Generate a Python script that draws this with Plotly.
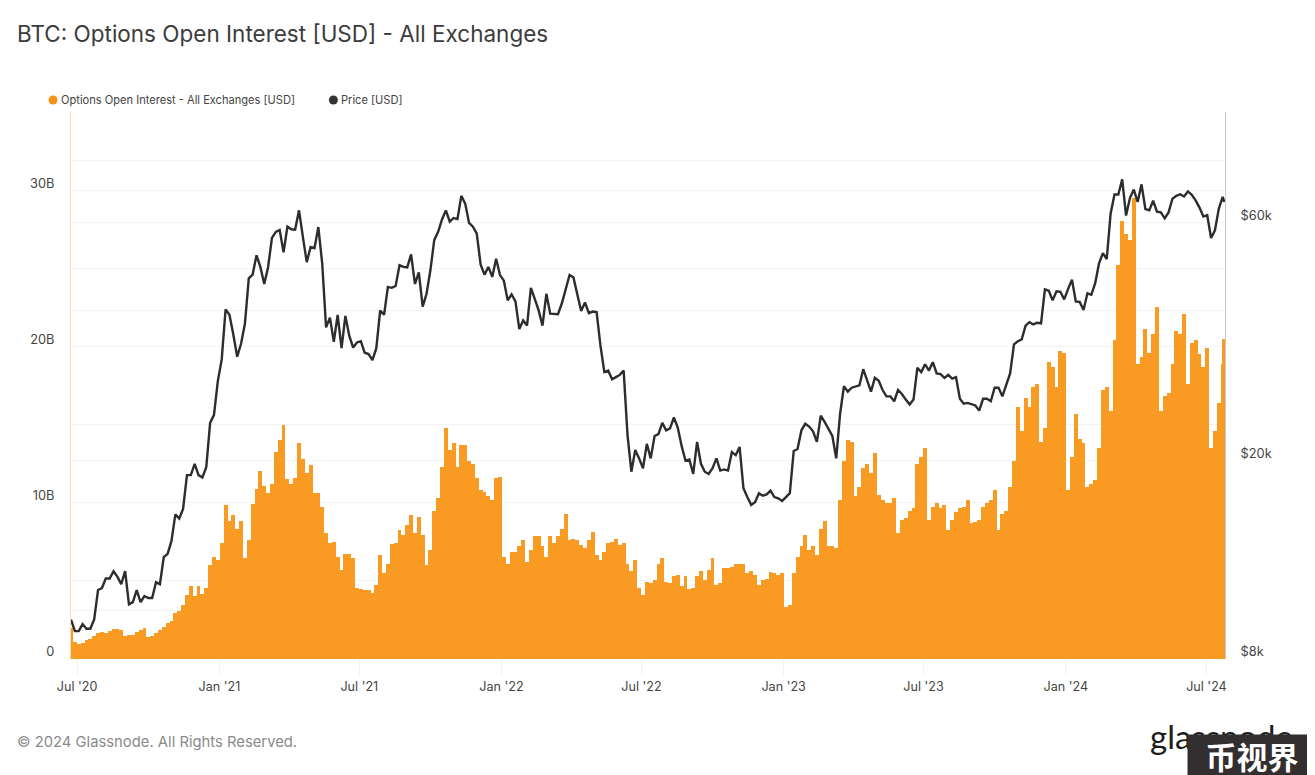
#!/usr/bin/env python3
"""BTC options open interest against price, Glassnode style."""

import numpy as np
import pandas as pd
import plotly.graph_objects as go

# one reading every 5 days from the start date, plus the last day
START_DATE = "2020-06-23"
LAST_DATE = "2024-07-24"

# open interest, billions of USD
OPEN_INTEREST = [
    2.0, 1.1, 0.95, 1.05, 1.2, 1.3, 1.5, 1.65, 1.75, 1.65,
    1.8, 1.9, 1.9, 1.85, 1.5, 1.55, 1.55, 1.7, 1.85, 2.0,
    1.4, 1.45, 1.65, 1.85, 2.05, 2.3, 2.45, 2.95, 3.1, 3.45,
    4.1, 4.65, 4.0, 4.65, 4.15, 4.55, 6.0, 6.55, 6.35, 7.4,
    9.85, 8.8, 9.2, 8.35, 8.8, 6.45, 7.6, 9.95, 10.9, 12.0,
    11.1, 10.6, 11.2, 13.25, 14.0, 15.0, 11.5, 11.2, 11.55, 13.8,
    12.8, 11.9, 12.4, 10.6, 10.6, 9.75, 8.05, 7.4, 7.5, 6.55,
    5.7, 6.75, 6.75, 6.45, 4.55, 4.5, 4.4, 4.4, 4.2, 4.75,
    6.65, 5.5, 6.1, 7.35, 7.4, 8.25, 7.95, 8.55, 9.2, 8.05,
    9.1, 7.95, 6.0, 7.0, 9.5, 10.3, 12.3, 14.75, 13.35, 13.8,
    12.3, 13.7, 13.7, 12.7, 12.5, 11.55, 10.8, 10.7, 10.4, 10.2,
    11.55, 11.65, 6.55, 6.1, 6.85, 6.85, 7.2, 7.6, 6.2, 7.0,
    7.85, 7.85, 7.2, 6.55, 7.85, 7.4, 7.85, 8.35, 9.3, 7.6,
    7.7, 7.6, 7.3, 7.1, 7.6, 8.15, 6.65, 6.35, 6.85, 7.4,
    7.5, 7.7, 7.3, 7.4, 6.1, 5.6, 6.35, 4.55, 4.1, 4.95,
    4.85, 5.05, 6.1, 6.45, 4.95, 4.85, 5.3, 5.4, 4.65, 5.3,
    4.45, 4.55, 5.3, 5.6, 5.05, 5.7, 6.45, 4.75, 4.85, 5.8,
    5.8, 5.9, 6.1, 6.1, 6.1, 5.5, 5.6, 5.4, 4.75, 5.05,
    5.15, 5.55, 5.5, 5.4, 5.5, 3.3, 3.45, 5.5, 6.55, 7.2,
    7.95, 7.0, 7.2, 6.65, 8.35, 8.8, 7.2, 7.2, 7.1, 10.2,
    12.7, 14.0, 13.9, 10.4, 11.0, 12.2, 12.5, 11.9, 13.2, 10.5,
    10.2, 10.0, 10.0, 10.3, 8.05, 8.9, 9.0, 9.5, 9.65, 12.5,
    12.9, 13.5, 8.9, 9.7, 10.0, 9.65, 9.85, 8.25, 8.9, 9.4,
    9.65, 9.7, 10.15, 8.7, 8.75, 8.9, 9.7, 10.0, 10.15, 10.8,
    8.25, 9.3, 9.5, 11.0, 12.7, 16.1, 14.6, 16.7, 16.1, 17.4,
    17.6, 13.9, 14.8, 19.0, 18.7, 17.4, 19.7, 19.6, 10.8, 12.9,
    15.7, 14.1, 13.8, 11.0, 11.2, 11.45, 13.5, 17.2, 17.4, 15.9,
    20.4, 25.2, 28.0, 27.2, 26.8, 29.5, 18.9, 19.3, 21.1, 19.6,
    20.8, 22.5, 15.9, 16.8, 17.0, 18.9, 21.0, 20.8, 22.1, 17.6,
    20.2, 20.4, 19.5, 18.7, 19.9, 13.5, 14.6, 16.4, 18.9, 20.5,
]

# price, thousands of USD
PRICE = [
    9.6, 9.1, 9.1, 9.4, 9.2, 9.2, 9.6, 11.0, 11.1, 11.6,
    11.6, 12.0, 11.7, 11.3, 12.0, 10.3, 10.4, 11.0, 10.4, 10.7,
    10.6, 10.6, 11.4, 11.3, 12.8, 13.0, 13.8, 15.6, 15.3, 16.0,
    18.7, 18.7, 19.7, 18.7, 18.5, 19.4, 23.8, 24.7, 28.9, 31.9,
    40.2, 39.2, 35.8, 32.3, 34.3, 37.6, 46.4, 47.2, 51.6, 48.9,
    45.2, 48.9, 55.9, 57.5, 58.0, 52.3, 58.9, 58.2, 58.1, 63.5,
    56.2, 50.0, 53.6, 53.3, 58.8, 49.7, 37.0, 38.7, 34.6, 39.2,
    33.6, 39.0, 35.6, 33.7, 34.5, 34.7, 32.9, 32.7, 31.8, 33.6,
    40.0, 39.2, 44.6, 44.4, 44.8, 49.3, 48.9, 48.8, 51.8, 45.2,
    47.7, 40.7, 43.2, 48.2, 55.4, 57.5, 60.9, 63.5, 60.3, 61.3,
    61.0, 67.9, 65.5, 59.9, 58.9, 57.0, 49.4, 47.2, 48.9, 46.7,
    50.8, 47.1, 45.9, 41.9, 43.1, 41.7, 36.7, 38.2, 37.3, 44.4,
    42.2, 40.0, 37.3, 43.2, 39.4, 39.4, 39.3, 41.3, 44.3, 47.1,
    46.6, 42.8, 39.9, 41.5, 39.5, 39.8, 39.7, 34.0, 30.1, 30.3,
    29.1, 29.4, 29.7, 30.3, 22.5, 19.0, 21.0, 20.2, 19.3, 21.6,
    20.2, 22.4, 22.6, 23.8, 23.0, 23.2, 24.4, 23.3, 21.4, 20.0,
    20.1, 18.8, 21.8, 19.7, 19.0, 18.8, 19.3, 20.2, 19.1, 19.2,
    19.1, 20.8, 20.5, 21.3, 17.6, 16.9, 16.3, 16.5, 17.2, 17.0,
    17.1, 17.4, 16.9, 16.8, 16.6, 16.9, 17.2, 20.9, 21.1, 23.0,
    23.7, 23.4, 22.9, 21.8, 24.6, 23.9, 23.1, 22.4, 20.2, 24.8,
    28.2, 27.5, 28.0, 28.2, 28.3, 30.5, 28.8, 27.5, 29.3, 28.9,
    27.7, 26.9, 26.9, 26.3, 27.7, 27.2, 26.5, 25.9, 26.5, 30.7,
    30.1, 31.2, 30.3, 31.5, 29.9, 29.8, 29.3, 29.7, 29.2, 29.4,
    26.6, 26.0, 26.1, 25.9, 25.8, 25.2, 26.6, 26.6, 26.3, 28.0,
    28.0, 26.9, 28.5, 29.9, 34.2, 34.7, 35.0, 37.3, 37.9, 37.5,
    37.8, 37.7, 44.1, 43.8, 41.9, 43.7, 43.6, 42.1, 44.2, 46.1,
    41.7, 41.6, 40.1, 43.3, 43.0, 45.3, 49.7, 52.1, 50.7, 62.5,
    68.3, 68.3, 73.3, 62.0, 67.2, 69.9, 66.0, 71.6, 63.9, 63.5,
    66.4, 63.1, 62.9, 61.2, 62.9, 67.0, 67.9, 68.4, 67.7, 69.3,
    68.2, 66.5, 64.3, 61.7, 62.1, 55.9, 57.9, 64.0, 67.6, 66.0,
]

OI_TICKS = [0, 5, 10, 15, 20, 25, 30, 35]
OI_LABELS = ["0", "", "10B", "", "20B", "", "30B", ""]
PRICE_TICKS = [8000, 10000, 20000, 40000, 60000, 80000]
PRICE_LABELS = ["$8k", "", "$20k", "", "$60k", ""]
DATE_TICKS = ["2020-07-01", "2021-01-01", "2021-07-01", "2022-01-01",
              "2022-07-01", "2023-01-01", "2023-07-01", "2024-01-01", "2024-07-01"]
DATE_LABELS = ["Jul '20", "Jan '21", "Jul '21", "Jan '22",
               "Jul '22", "Jan '23", "Jul '23", "Jan '24", "Jul '24"]

# the page keeps the browser's 8px body margin, so the figure is 8px smaller
PAGE_W, PAGE_H, BODY_MARGIN = 1315, 775, 8
LEFT, RIGHT, TOP, BOTTOM = 70.5, 1225, 112, 659

ORANGE = "#f99b22"
DARK = "#2d2d2d"
TEXT = "#444444"
GRID = "#f3f3f3"
FONT = "Inter"


def paper_x(px):
    return (px - LEFT) / (RIGHT - LEFT)


def paper_y(py):
    return (BOTTOM - py) / (BOTTOM - TOP)


def label(text, x, y, size, color=TEXT, family=FONT, **kwargs):
    return dict(
        text=text, x=paper_x(x), y=paper_y(y), xref="paper", yref="paper",
        xanchor="left", yanchor="middle", showarrow=False,
        font=dict(size=size, color=color, family=family), **kwargs,
    )


def dot(x, y, color):
    return dict(
        type="circle", xref="paper", yref="paper", fillcolor=color, line_width=0,
        x0=paper_x(x - 4.5), x1=paper_x(x + 4.5),
        y0=paper_y(y + 4.5), y1=paper_y(y - 4.5),
    )


def main():
    dates = list(pd.date_range(START_DATE, periods=len(PRICE) - 1, freq="5D"))
    dates.append(pd.Timestamp(LAST_DATE))
    price_usd = [p * 1000 for p in PRICE]

    fig = go.Figure()
    fig.add_trace(go.Bar(
        x=dates, y=OPEN_INTEREST, name="Options Open Interest - All Exchanges [USD]",
        marker=dict(color=ORANGE, line_width=0), width=5 * 86400000, yaxis="y",
    ))
    fig.add_trace(go.Scatter(
        x=dates, y=price_usd, name="Price [USD]", mode="lines",
        line=dict(color=DARK, width=2.4), yaxis="y2",
    ))

    fig.update_layout(
        width=PAGE_W - BODY_MARGIN, height=PAGE_H - BODY_MARGIN,
        margin=dict(l=LEFT - BODY_MARGIN, r=PAGE_W - RIGHT,
                    t=TOP - BODY_MARGIN, b=PAGE_H - BOTTOM, pad=0),
        paper_bgcolor="white", plot_bgcolor="white",
        showlegend=False, bargap=0,
        font=dict(family=FONT, color=TEXT, size=12),
        xaxis=dict(
            type="date", range=["2020-06-23", "2024-07-25"],
            tickmode="array", tickvals=DATE_TICKS, ticktext=DATE_LABELS,
            showgrid=False, zeroline=False, ticks="outside", ticklen=16,
            tickcolor="#f2f2f2", tickfont=dict(size=12.6, color=TEXT),
        ),
        yaxis=dict(
            range=[0, 35], tickmode="array", tickvals=OI_TICKS, ticktext=OI_LABELS,
            gridcolor=GRID, zeroline=False, showline=True, linecolor="#f8dcae",
            linewidth=1, ticks="outside", ticklen=13, tickcolor="rgba(0,0,0,0)",
            ticklabelshift=-7, tickfont=dict(size=12.8, color=TEXT),
        ),
        yaxis2=dict(
            type="log", overlaying="y", side="right",
            range=[np.log10(8000), np.log10(100000)],
            tickmode="array", tickvals=PRICE_TICKS, ticktext=PRICE_LABELS,
            gridcolor=GRID, zeroline=False, showline=True, linecolor="#c9c9c9",
            linewidth=1, ticks="outside", ticklen=12, tickcolor="rgba(0,0,0,0)",
            ticklabelshift=-7, tickfont=dict(size=12.8, color=TEXT),
        ),
        shapes=[dot(52.5, 100, "#f7931a"), dot(333, 100, "#333333")],
        annotations=[
            label("BTC: Options Open Interest [USD] - All Exchanges", 14.5, 34, 22.5, "#3c3c3c"),
            label("Options Open Interest - All Exchanges [USD]", 58, 100, 11.1),
            label("Price [USD]", 339, 100, 11.1),
            label("© 2024 Glassnode. All Rights Reserved.", 14.5, 742, 14.8, "#8a8a8a"),
            label("glassnode", 1148, 736, 33, "#1d1d1d", "Lato"),
            label("<b>币视界</b>", 1187, 754.5, 31, "white", "Noto Sans CJK SC",
                  bgcolor="#332e30", width=126, height=38, align="center"),
        ],
    )

    fig.write_html("out.html")


if __name__ == "__main__":
    main()
